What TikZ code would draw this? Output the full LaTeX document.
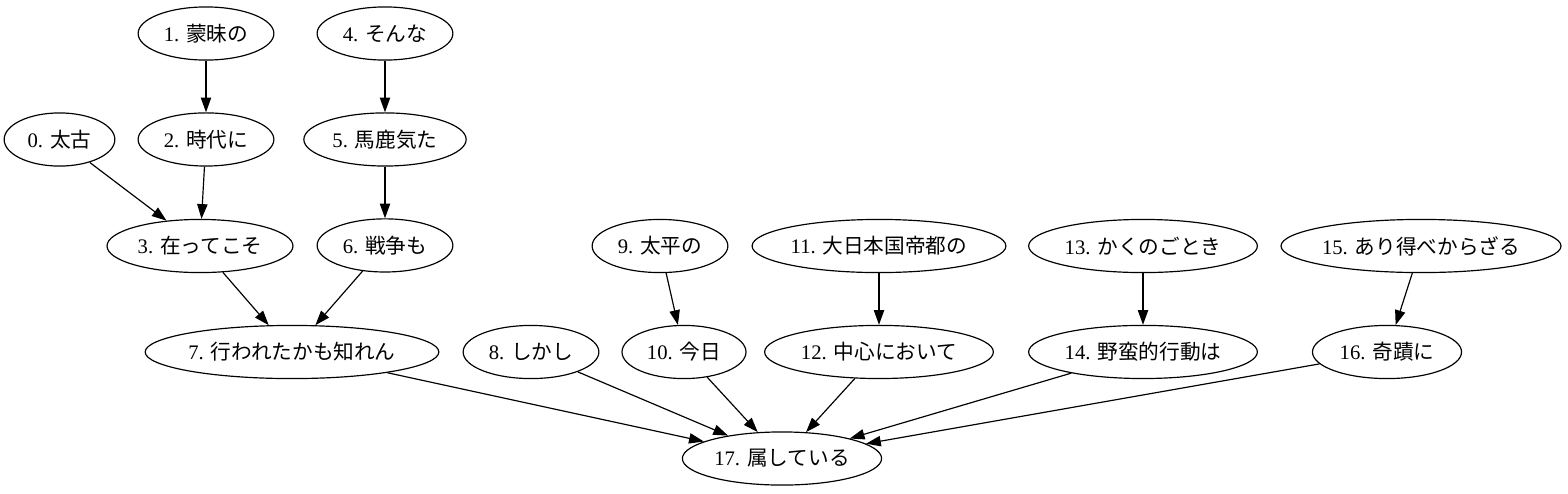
\documentclass[tikz,border=0pt]{standalone}
\usepackage{fontspec}
\setmainfont{Liberation Serif}
\newfontfamily\jp{Noto Sans CJK JP}
\usetikzlibrary{positioning}
\usetikzlibrary{shapes.geometric}
\usetikzlibrary{arrows.meta}

\begin{document}
\begin{tikzpicture}[
    x=0.6776pt, y=-0.6776pt,
    node distance=35pt,
    every node/.style={font=\fontsize{14}{16}\selectfont},
    wd/.style={ellipse, draw, line width=0.8pt, inner sep=0pt, minimum height=36pt, align=center},
    line/.style={-{Triangle[length=10pt, width=7pt]}, line width=0.8pt}
]
\useasboundingbox (0,0) rectangle (1568,493);

% Left branch
\node[wd, minimum width=92pt] (n1) at (206,33.5) {1. {\jp 蒙昧の}};
\node[wd, minimum width=92pt, below=of n1] (n2) {2. {\jp 時代に}};
\node[wd, minimum width=75pt] (n0) at (59.5,139.5) {0. {\jp 太古}};
\node[wd, minimum width=126pt] (n3) at (200,246) {3. {\jp 在ってこそ}};

\node[wd, minimum width=92pt] (n4) at (385,33.5) {4. {\jp そんな}};
\node[wd, minimum width=110pt, below=of n4] (n5) {5. {\jp 馬鹿気た}};
\node[wd, minimum width=92pt, below=of n5] (n6) {6. {\jp 戦争も}};

\node[wd, minimum width=199pt] (n7) at (292,352) {7. {\jp 行われたかも知れん}};
\node[wd, minimum width=92pt] (n8) at (531,352) {8. {\jp しかし}};

% Right branches
\node[wd, minimum width=92pt] (n9) at (660,246) {9. {\jp 太平の}};
\node[wd, minimum width=84pt] (n10) at (684,352) {10. {\jp 今日}};
\node[wd, minimum width=172pt] (n11) at (879,246) {11. {\jp 大日本国帝都の}};
\node[wd, minimum width=155pt, below=of n11] (n12) {12. {\jp 中心において}};
\node[wd, minimum width=155pt] (n13) at (1143,246) {13. {\jp かくのごとき}};
\node[wd, minimum width=155pt, below=of n13] (n14) {14. {\jp 野蛮的行動は}};
\node[wd, minimum width=188pt] (n15) at (1421,246) {15. {\jp あり得べからざる}};
\node[wd, minimum width=101pt] (n16) at (1387,352) {16. {\jp 奇蹟に}};

% Root
\node[wd, minimum width=135pt] (n17) at (782,458.5) {17. {\jp 属している}};

% Edges
\draw[line] (n1) -- (n2);
\draw[line] (n0) -- (n3);
\draw[line] (n2) -- (n3);
\draw[line] (n4) -- (n5);
\draw[line] (n5) -- (n6);
\draw[line] (n3) -- (n7);
\draw[line] (n6) -- (n7);
\draw[line] (n9) -- (n10);
\draw[line] (n11) -- (n12);
\draw[line] (n13) -- (n14);
\draw[line] (n15) -- (n16);

\draw[line] (n7) -- (n17);
\draw[line] (n8) -- (n17);
\draw[line] (n10) -- (n17);
\draw[line] (n12) -- (n17);
\draw[line] (n14) -- (n17);
\draw[line] (n16) -- (n17);

\end{tikzpicture}
\end{document}
